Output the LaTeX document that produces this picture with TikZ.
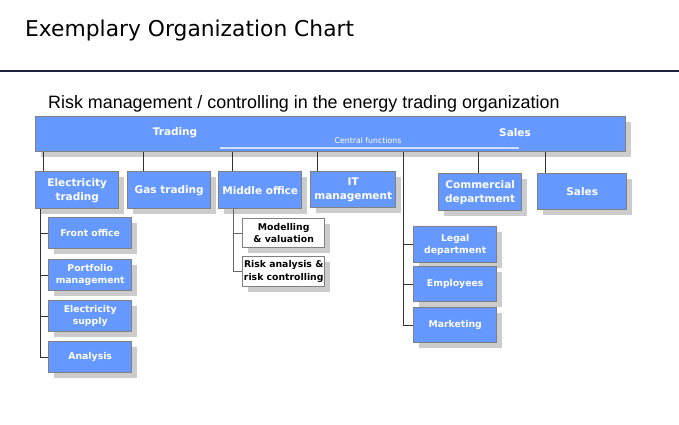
\documentclass[tikz,border=0pt]{standalone}
\usepackage{fontspec}
\setmainfont{DejaVu Sans}
\newfontfamily\arialfont{Liberation Sans}
\usetikzlibrary{shadows}
\definecolor{unitblue}{RGB}{102,153,255}
\definecolor{rulenavy}{RGB}{28,36,64}
\tikzset{
  unit/.style={draw=black!50, line width=1.4pt, fill=unitblue, text=white,
    font=\fontsize{9.3}{12.5}\selectfont\bfseries, align=center, anchor=north west,
    inner sep=0pt, drop shadow={shadow xshift=5pt, shadow yshift=-5pt, fill=black!20, opacity=1}},
  bigunit/.style={unit, font=\fontsize{10.5}{14}\selectfont\bfseries},
  subunit/.style={unit, fill=white, text=black},
  link/.style={line width=0.8pt, black!80}
}
\begin{document}
\begin{tikzpicture}[x=1pt,y=-1pt]
\useasboundingbox (0,0) rectangle (679,424);
\node[anchor=base west, inner sep=0pt, font=\fontsize{21.8}{25}\selectfont] (title) at (25,36) {Exemplary Organization Chart};
\draw[rulenavy, line width=2pt] (0,71) -- (679,71);
\node[anchor=base west, inner sep=0pt, font=\arialfont\fontsize{17.9}{20}\selectfont] (subtitle) at (48,108) {Risk management / controlling in the energy trading organization};

% top bar
\node[unit, minimum width=590pt, minimum height=35pt] (top) at (35,116) {};
\node[text=white, font=\fontsize{10.5}{12}\selectfont\bfseries] (trading) at (175,133) {Trading};
\node[text=white, font=\fontsize{10.5}{12}\selectfont\bfseries] (sales) at (515,133) {Sales};
\draw[white!70!unitblue, line width=1.5pt] (220,148) -- (519,148);
\node[text=white, font=\fontsize{7.8}{9}\selectfont] (central) at (368,141) {Central functions};

% second row
\node[bigunit, minimum width=83pt, minimum height=37pt] (et) at (35,171) {Electricity\\trading};
\node[bigunit, minimum width=83pt, minimum height=37pt] (gt) at (127,171) {Gas trading};
\node[bigunit, minimum width=83pt, minimum height=37pt] (mo) at (218,171) {Middle office};
\node[bigunit, minimum width=85pt, minimum height=36pt] (it) at (310,171) {IT\\management};
\node[bigunit, minimum width=83pt, minimum height=37pt] (cd) at (438,173) {Commercial\\department};
\node[bigunit, minimum width=89pt, minimum height=36pt] (sl) at (537,173) {Sales};

\foreach \n/\dx in {et/8,gt/16,mo/14,it/7,cd/40,sl/8}
  \draw[link] ([xshift=\dx pt]\n.north west) -- ([xshift=\dx pt]\n.north west |- top.south);

% electricity trading
\node[unit, minimum width=83pt, minimum height=31pt] (fo) at (48,217) {Front office};
\node[unit, minimum width=83pt, minimum height=31pt] (pm) at (48,259) {Portfolio\\management};
\node[unit, minimum width=83pt, minimum height=31pt] (es) at (48,300) {Electricity\\supply};
\node[unit, minimum width=83pt, minimum height=31pt] (an) at (48,341) {Analysis};
\foreach \n in {fo,pm,es,an}
  \draw[link] ([xshift=5pt]et.south west) |- (\n.west);

% middle office
\node[subunit, minimum width=82pt, minimum height=29pt] (mv) at (242,218) {Modelling\\\& valuation};
\node[subunit, minimum width=82pt, minimum height=30pt] (ra) at (242,256) {Risk analysis \&\\risk controlling};
\foreach \n in {mv,ra}
  \draw[link, black!60] ([xshift=15pt]mo.south west) |- (\n.west);

% central functions
\node[unit, minimum width=83pt, minimum height=36pt] (ld) at (413,226) {Legal\\department};
\node[unit, minimum width=83pt, minimum height=35pt] (em) at (413,266) {Employees};
\node[unit, minimum width=83pt, minimum height=35pt] (mk) at (413,307) {Marketing};
\foreach \n in {ld,em,mk}
  \draw[link] ([xshift=-10pt]ld.west |- top.south) |- (\n.west);
\end{tikzpicture}
\end{document}
